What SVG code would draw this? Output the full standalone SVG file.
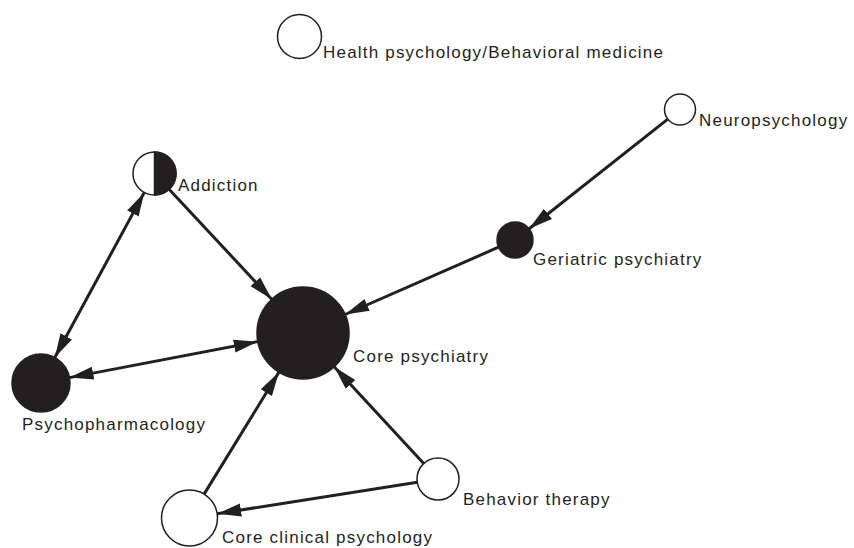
<svg xmlns="http://www.w3.org/2000/svg" width="854" height="548" viewBox="0 0 854 548">
<style>
.lbl{font-family:"Liberation Sans",Arial,Helvetica,sans-serif;font-size:17px;letter-spacing:1.2px;fill:#231f20}
.w{fill:#fff;stroke:#231f20;stroke-width:1.5}
.b{fill:#231f20;stroke:#231f20;stroke-width:1.5}
.e{stroke:#231f20;stroke-width:3;fill:none}
</style>
<defs>
<marker id="ah" markerUnits="userSpaceOnUse" markerWidth="26" markerHeight="16" refX="24" refY="8" orient="auto-start-reverse">
<path d="M0,1.5 L24,8 L0,14.5 z" fill="#231f20"/>
</marker>
</defs>
<rect width="854" height="548" fill="#fff"/>
<g id="connectors">
<line class="e" x1="667.8" y1="119.1" x2="529.1" y2="228.8" marker-end="url(#ah)"/>
<line class="e" x1="498.5" y1="247.2" x2="345.1" y2="314.5" marker-end="url(#ah)"/>
<line class="e" x1="169.1" y1="189.2" x2="271.7" y2="299.3" marker-end="url(#ah)"/>
<line class="e" x1="144.3" y1="192.4" x2="54.8" y2="357.5" marker-start="url(#ah)" marker-end="url(#ah)"/>
<line class="e" x1="69.5" y1="377.6" x2="257.8" y2="341.6" marker-start="url(#ah)" marker-end="url(#ah)"/>
<line class="e" x1="204.1" y1="494.1" x2="278.9" y2="372.2" marker-end="url(#ah)"/>
<line class="e" x1="423.7" y1="463.6" x2="334.2" y2="366.8" marker-end="url(#ah)"/>
<line class="e" x1="417.3" y1="482.3" x2="217.2" y2="513.7" marker-end="url(#ah)"/>
</g>
<g id="health">
<circle class="w" cx="299.5" cy="36.5" r="22"/>
<text class="lbl" x="323" y="58">Health psychology/Behavioral medicine</text>
</g>
<g id="neuro">
<circle class="w" cx="680" cy="109.5" r="15.5"/>
<text class="lbl" x="699" y="126">Neuropsychology</text>
</g>
<g id="addiction">
<circle class="w" cx="154.5" cy="173.5" r="21.5"/>
<path class="b" d="M154.5,152 A21.5,21.5 0 0 1 154.5,195 Z"/>
<text class="lbl" x="178" y="191">Addiction</text>
</g>
<g id="geriatric">
<circle class="b" cx="515" cy="240" r="18"/>
<text class="lbl" x="533" y="265">Geriatric psychiatry</text>
</g>
<g id="core">
<circle class="b" cx="303" cy="333" r="46"/>
<text class="lbl" x="353" y="362">Core psychiatry</text>
</g>
<g id="psychopharm">
<circle class="b" cx="41" cy="383" r="29"/>
<text class="lbl" x="22" y="430">Psychopharmacology</text>
</g>
<g id="behavior">
<circle class="w" cx="438" cy="479" r="21"/>
<text class="lbl" x="463" y="505">Behavior therapy</text>
</g>
<g id="clinical">
<circle class="w" cx="189.5" cy="518" r="28"/>
<text class="lbl" x="222" y="543">Core clinical psychology</text>
</g>
</svg>
